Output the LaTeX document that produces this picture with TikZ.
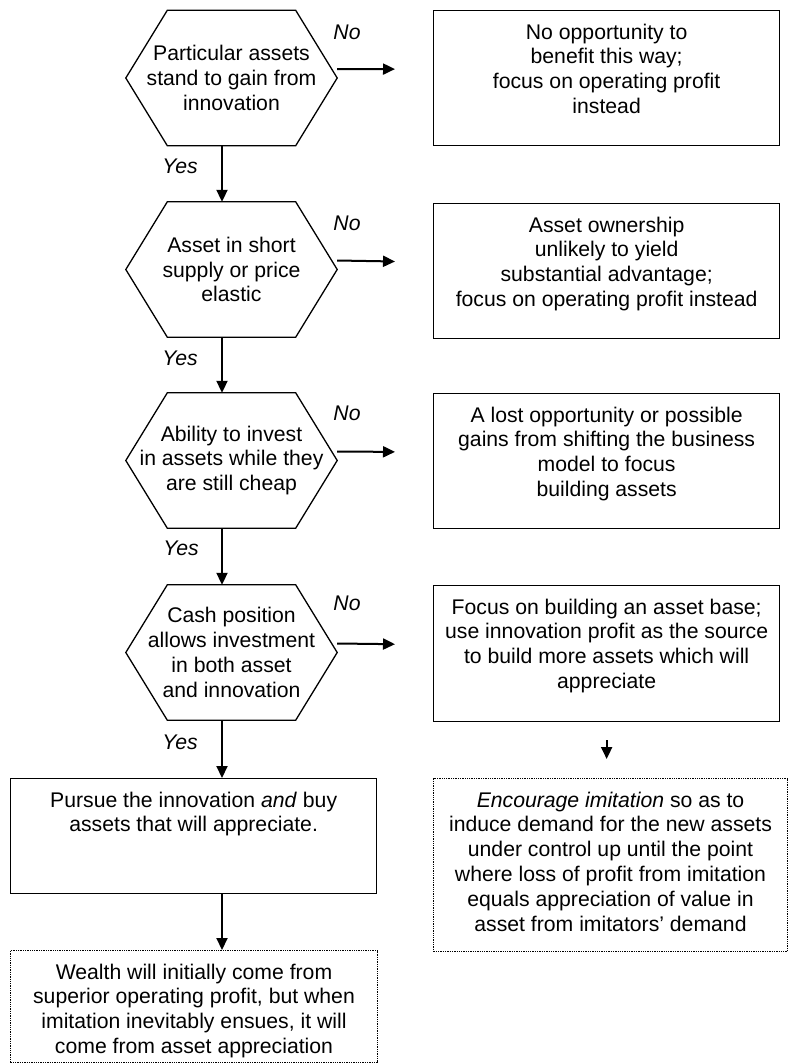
\documentclass[tikz,border=0pt]{standalone}
\usepackage{fontspec}
\setmainfont{Liberation Sans}
\usetikzlibrary{positioning, arrows.meta, calc}

\begin{document}
\begin{tikzpicture}[x=1pt, y=-1pt,
		every node/.style = {font=\fontsize{21.2}{24.8}\selectfont},
		hexa/.style = {minimum width=211pt, minimum height=135pt,
			align=center, inner sep=0pt},
		box/.style args = {#1/#2}{%
			draw, line width=1.3pt, anchor=north west, inner sep=0pt,
			execute at begin node={\begin{minipage}[c][#2pt][t]{#1pt}\centering\rule{0pt}{28.5pt}},
			execute at end node={\end{minipage}}},
		dbox/.style args = {#1/#2}{box=#1/#2, densely dotted, line width=1pt},
		lbl/.style = {font=\fontsize{21.2}{24.8}\selectfont\itshape},
		arr/.style = {line width=2pt, -{Triangle[length=12pt, width=11pt]}}
		]
		\useasboundingbox (0,0) rectangle (788,1063);

		% questions
		\node (Q1) [hexa] at (231.5, 78) {Particular assets\\ stand to gain from\\ innovation};
		\node (Q2) [hexa] at (231.5, 269.5) {Asset in short\\ supply or price\\ elastic};
		\node (Q3) [hexa] at (231.5, 460.5) {Ability to invest\\ in assets while they\\ are still cheap};
		\node (Q4) [hexa] at (231.5, 652.5) {Cash position\\ allows investment\\ in both asset\\ and innovation};

		\foreach \q in {Q1,Q2,Q3,Q4}
			\draw[line width=1.3pt] ($(\q.north west)+(41.5,0)$) -- ($(\q.north east)+(-41.5,0)$) -- (\q.east)
				-- ($(\q.south east)+(-41.5,0)$) -- ($(\q.south west)+(41.5,0)$) -- (\q.west) -- cycle;

		% outcomes
		\node (N1) [box=346/135] at (433, 10) {No opportunity to\\ benefit this way;\\ focus on operating profit\\ instead};
		\node (N2) [box=346/135] at (433, 203) {Asset ownership\\ unlikely to yield\\ substantial advantage;\\ focus on operating profit instead};
		\node (N3) [box=346/135] at (433, 393) {A lost opportunity or possible\\ gains from shifting the business\\ model to focus\\ building assets};
		\node (N4) [box=346/136] at (433, 585) {Focus on building an asset base;\\ use innovation profit as the source\\ to build more assets which will\\ appreciate};
		\node (P) [box=366/115] at (10, 778) {Pursue the innovation \textit{and} buy\\ assets that will appreciate.};
		\node (E) [dbox=354/173] at (433, 778) {\textit{Encourage imitation} so as to\\ induce demand for the new assets\\ under control up until the point\\ where loss of profit from imitation\\ equals appreciation of value in\\ asset from imitators’ demand};
		\node (W) [dbox=367/112] at (10, 950) {Wealth will initially come from\\ superior operating profit, but when\\ imitation inevitably ensues, it will\\ come from asset appreciation};

		% answers
		\node (no1) [lbl] at (347, 32) {No};
		\node (no2) [lbl] at (347, 223) {No};
		\node (no3) [lbl] at (347, 413) {No};
		\node (no4) [lbl] at (347, 603) {No};
		\node (yes1) [lbl] at (180, 166) {Yes};
		\node (yes2) [lbl] at (180, 358) {Yes};
		\node (yes3) [lbl] at (181, 548) {Yes};
		\node (yes4) [lbl] at (180, 742) {Yes};

		\coordinate (col) at (222, 0);
		\foreach \a/\b in {Q1/Q2, Q2/Q3, Q3/Q4, Q4/P, P/W}
			\draw[arr] (\a.south -| col) -- (\b.north -| col);
		\foreach \q/\n in {Q1/N1, Q2/N2, Q3/N3, Q4/N4}
			\draw[arr, shorten >=38pt] ($(\q.east)+(0,-9)$) -- ($(\n.west)+(0,-9)$);
		\draw[arr, shorten <=18pt, shorten >=19pt] (N4.south) -- (N4.south |- E.north);
	\end{tikzpicture}
\end{document}
